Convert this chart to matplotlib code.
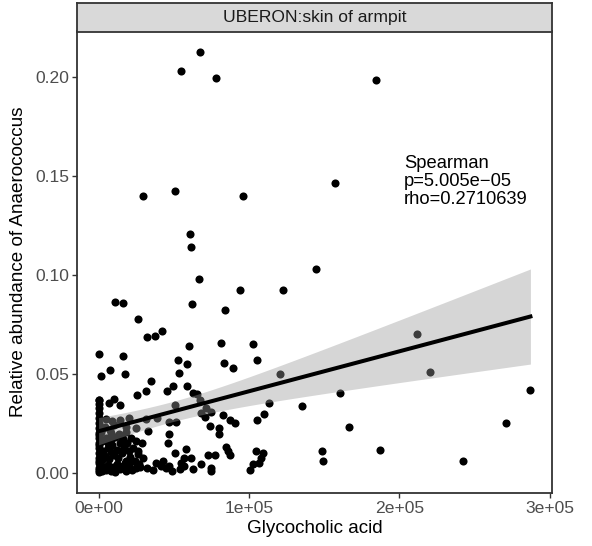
import numpy as np
import matplotlib
matplotlib.use("Agg")
import matplotlib.pyplot as plt

plt.rcParams['font.family'] = ['Liberation Sans', 'DejaVu Sans']

# Glycocholic acid (x) vs relative abundance of Anaerococcus (y)
glyco = [
    67100, 54500, 78000, 184700, 157100, 29600, 50500, 96000, 60900, 61600,
    144500, 66500, 94000, 122900, 11100, 16500, 62000, 84300, 26100, 42300,
    37500, 32000, 59800, 81100, 102900, 0, 16000, 52500, 105300, 58500,
    83300, 89600, 7300, 1800, 17800, 53300, 120500, 35000, 58500, 49300,
    45300, 31600, 25300, 0, 10500, 7100, 14000, 50500, 67100, 71600,
    65600, 62700, 113600, 110300, 105300, 135300, 160300, 166300, 104500, 109300,
    148700, 149300, 186900, 211600, 220300, 242000, 270700, 287100, 102700, 106700,
    108300, 100900, 82700, 87100, 90900, 70900, 74300, 80000, 80000, 38900,
    51600, 46700, 14500, 84500, 87600, 86000, 72700, 77600, 58300, 61600,
    51100, 57100, 74900, 74900, 38300, 41600, 44900, 47100, 53800, 56500,
    32000, 27100, 24900, 26000, 29300, 32700, 46700, 46000, 2300, 8300,
    18300, 21600, 24900, 28900, 67800, 74900,
    36000, 43000, 49000, 55000, 63000, 68000,
    # column at zero
    0, 0, 0, 0, 0, 0, 0, 0, 0, 0,
    0, 0, 0, 0, 0, 0, 400, 500, 300, 600,
    # dense cluster near the origin
    2000, 3500, 5000, 6500, 8000, 9500, 11000, 12500, 14000, 16000,
    18000, 20000, 22000, 2500, 4500, 7000, 10000, 13000, 15500, 18500,
    21000, 3000, 6000, 9000, 12000, 14500, 17000, 20000, 23000, 2000,
    5000, 8000, 11000, 13500, 16500, 19000, 1500, 4000, 7500, 10500,
    26000, 24000, 27500, 4900, 20500, 24900, 31600, 18300, 9000,
    1000, 5500, 9000, 13500, 17500, 21500, 25500, 8500, 16000, 6000,
    15000,
]
abundance = [
    0.2127, 0.2030, 0.1995, 0.1983, 0.1466, 0.1397, 0.1425, 0.1397, 0.1205, 0.1139,
    0.1031, 0.0982, 0.0925, 0.0925, 0.0862, 0.0859, 0.0854, 0.0824, 0.0778, 0.0719,
    0.0690, 0.0685, 0.0643, 0.0655, 0.0649, 0.0599, 0.0592, 0.0570, 0.0572, 0.0552,
    0.0556, 0.0532, 0.0519, 0.0487, 0.0499, 0.0502, 0.0497, 0.0465, 0.0440, 0.0441,
    0.0414, 0.0413, 0.0394, 0.0369, 0.0374, 0.0355, 0.0343, 0.0344, 0.0369, 0.0330,
    0.0398, 0.0403, 0.0353, 0.0296, 0.0266, 0.0338, 0.0401, 0.0230, 0.0110, 0.0101,
    0.0110, 0.0059, 0.0117, 0.0700, 0.0509, 0.0059, 0.0254, 0.0421, 0.0043, 0.0051,
    0.0076, 0.0012, 0.0293, 0.0266, 0.0254, 0.0282, 0.0235, 0.0228, 0.0195, 0.0279,
    0.0259, 0.0259, 0.0266, 0.0130, 0.0090, 0.0110, 0.0090, 0.0090, 0.0119, 0.0076,
    0.0100, 0.0076, 0.0025, 0.0009, 0.0051, 0.0034, 0.0025, 0.0034, 0.0017, 0.0034,
    0.0025, 0.0043, 0.0025, 0.0093, 0.0076, 0.0211, 0.0198, 0.0152, 0.0220, 0.0203,
    0.0208, 0.0177, 0.0161, 0.0152, 0.0304, 0.0308,
    0.0015, 0.0060, 0.0010, 0.0052, 0.0020, 0.0045,
    0.0349, 0.0328, 0.0303, 0.0277, 0.0252, 0.0227, 0.0201, 0.0176, 0.0151, 0.0125,
    0.0100, 0.0075, 0.0049, 0.0024, 0.0004, 0.0369, 0.0012, 0.0062, 0.0138, 0.0189,
    0.0008, 0.0030, 0.0015, 0.0040, 0.0010, 0.0028, 0.0005, 0.0045, 0.0018, 0.0032,
    0.0008, 0.0040, 0.0015, 0.0065, 0.0085, 0.0070, 0.0090, 0.0075, 0.0100, 0.0060,
    0.0080, 0.0110, 0.0125, 0.0140, 0.0115, 0.0150, 0.0130, 0.0110, 0.0125, 0.0160,
    0.0175, 0.0165, 0.0180, 0.0195, 0.0170, 0.0150, 0.0205, 0.0230, 0.0215, 0.0240,
    0.0110, 0.0060, 0.0030, 0.0271, 0.0279, 0.0228, 0.0271, 0.0230, 0.0262,
    0.0020, 0.0025, 0.0012, 0.0035, 0.0050, 0.0058, 0.0045, 0.0105, 0.0115, 0.0150,
    0.0185,
]
x_ticks = [0, 100000, 200000, 300000]
y_ticks = [0.00, 0.05, 0.10, 0.15, 0.20]
facet_label = "UBERON:skin of armpit"
stat_text = "Spearman\np=5.005e\u221205\nrho=0.2710639"

x = np.array(glyco, dtype=float)
y = np.array(abundance, dtype=float)

# linear fit + 95% confidence band (like geom_smooth(method="lm"))
n = len(x)
slope, intercept = np.polyfit(x, y, 1)
resid = y - (intercept + slope * x)
s = np.sqrt(np.sum(resid ** 2) / (n - 2))
xs = np.linspace(x.min(), x.max(), 100)
fit = intercept + slope * xs
se = s * np.sqrt(1 / n + (xs - x.mean()) ** 2 / np.sum((x - x.mean()) ** 2))
t = 1.97

fig = plt.figure(figsize=(5.92, 5.46), dpi=100)
ax = fig.add_axes([77 / 592, 1 - 493 / 546, 475 / 592, 462 / 546])
strip = fig.add_axes([77 / 592, 1 - 31.5 / 546, 475 / 592, 28.5 / 546])

ax.scatter(x, y, s=34, color='black', linewidths=0, zorder=2)
ax.fill_between(xs, fit - t * se, fit + t * se, color='#999999', alpha=0.4,
                linewidth=0, zorder=3)
ax.plot(xs, fit, color='black', linewidth=2.9, zorder=4)

ax.text(203000, 0.1605, stat_text, ha='left', va='top', fontsize=13.2,
        linespacing=1.05, color='black')

xpad = 0.05 * (x.max() - x.min())
ypad = 0.05 * (y.max() - y.min())
ax.set_xlim(x.min() - xpad, x.max() + xpad)
ax.set_ylim(y.min() - ypad, y.max() + ypad)

ax.set_xticks(x_ticks)
ax.set_xticklabels([f"{v:.0e}" for v in x_ticks])
ax.set_yticks(y_ticks)
ax.set_yticklabels([f"{v:.2f}" for v in y_ticks])
ax.tick_params(direction='out', length=3.5, width=1, color='#333333',
               labelcolor='#4d4d4d', labelsize=12.6, pad=2)
for sp in ax.spines.values():
    sp.set_color('#333333')
    sp.set_linewidth(1.3)

ax.set_xlabel("Glycocholic acid", fontsize=13.6, labelpad=3)
ax.set_ylabel("Relative abundance of Anaerococcus", fontsize=13.6, labelpad=6)

strip.set_facecolor('#d9d9d9')
strip.set_xticks([])
strip.set_yticks([])
for sp in strip.spines.values():
    sp.set_color('#333333')
    sp.set_linewidth(1.3)
strip.text(0.5, 0.5, facet_label, ha='center', va='center', fontsize=12.6,
           color='#1a1a1a', transform=strip.transAxes)

fig.savefig("out.png", dpi=100)
